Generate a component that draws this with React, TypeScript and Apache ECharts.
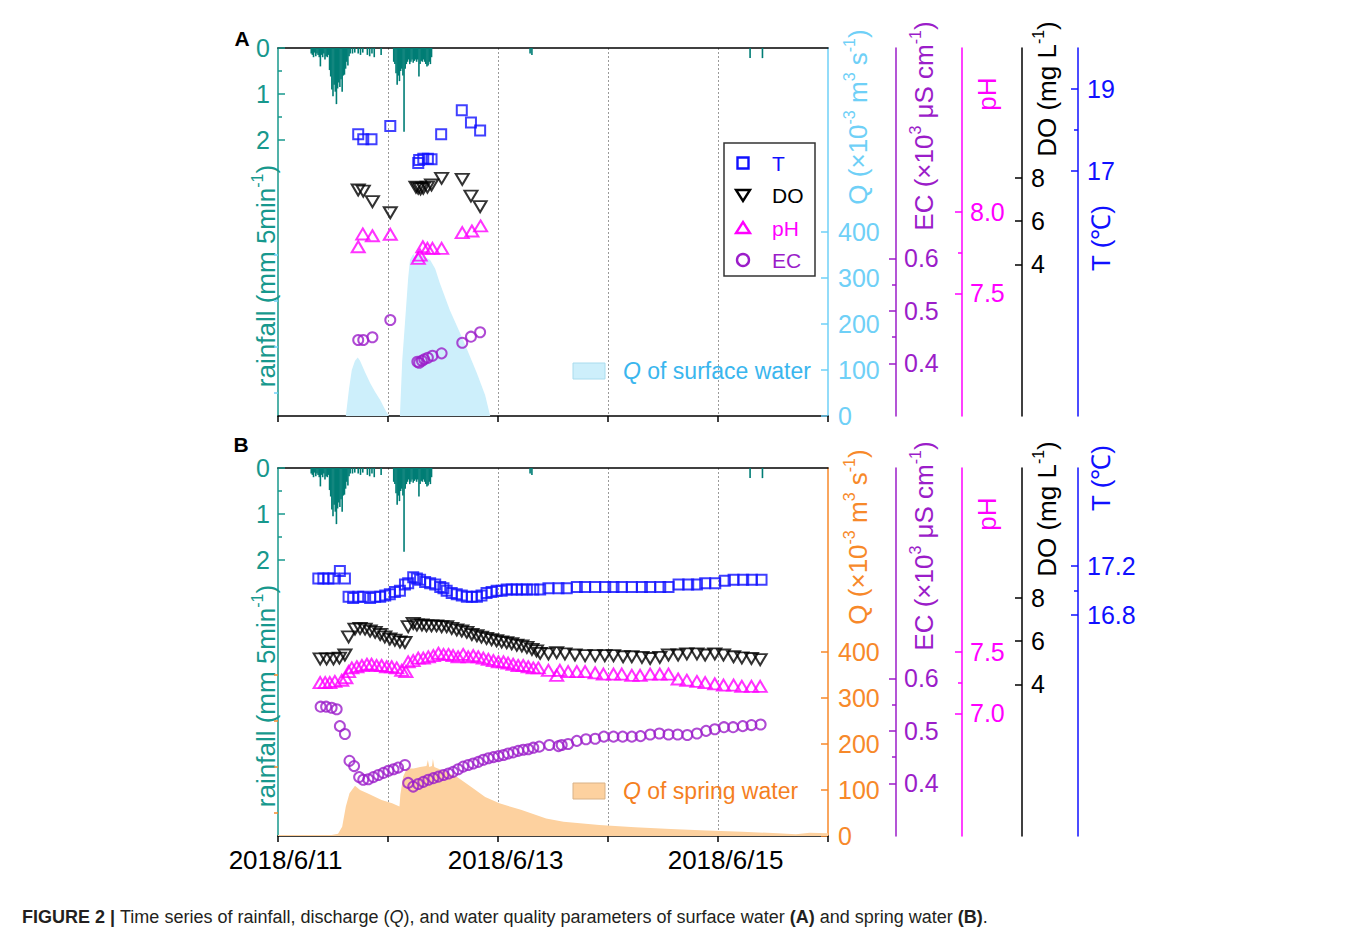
import React, { useEffect, useRef } from 'react';
import * as echarts from 'echarts';

const FONT = '"Liberation Sans", Arial, Helvetica, sans-serif';

// x values: hours after 2018/6/11 00:00
const xTickLabels: Record<number, string> = { 0: '2018/6/11', 48: '2018/6/13', 96: '2018/6/15' };

// rainfall (mm per 5 min), same gauge for both panels
const rainfall: [number, number][] = [
  [7.25, 0.12], [7.5, 0.15], [7.75, 0.2], [8.0, 0.1], [8.25, 0.18], [8.5, 0.12], [8.75, 0.15], [9.0, 0.2],
  [9.25, 0.4], [9.5, 0.15], [9.75, 0.2], [10.0, 0.12], [10.25, 0.25], [10.5, 0.18], [10.75, 0.2], [11.0, 0.15],
  [11.25, 0.48], [11.5, 0.62], [11.75, 0.9], [12.0, 1.05], [12.25, 0.8], [12.5, 0.95], [12.75, 1.22], [13.0, 0.88],
  [13.25, 0.75], [13.5, 0.85], [13.75, 0.68], [14.0, 0.95], [14.25, 0.6], [14.5, 0.58], [14.75, 0.45], [15.0, 0.3],
  [15.25, 0.38], [15.5, 0.18], [15.75, 0.12],
  [16.25, 0.12], [16.75, 0.1], [17.5, 0.12], [18.0, 0.15], [18.5, 0.1], [19.5, 0.15], [20.0, 0.18], [20.5, 0.12],
  [21.0, 0.2], [22.5, 0.15],
  [25.25, 0.3], [25.5, 0.35], [25.75, 0.55], [26.0, 0.8], [26.25, 0.6], [26.5, 0.72], [26.75, 0.5], [27.0, 0.45],
  [27.25, 0.6], [27.5, 1.82], [27.75, 0.45], [28.0, 0.35], [28.25, 0.3], [28.5, 0.25], [28.75, 0.35], [29.0, 0.3],
  [29.25, 0.25], [29.5, 0.32], [29.75, 0.28], [30.0, 0.25], [30.25, 0.3], [30.5, 0.25], [30.75, 0.62], [31.0, 0.35],
  [31.25, 0.28], [31.5, 0.3], [31.75, 0.25], [32.0, 0.3], [32.25, 0.35], [32.5, 0.4], [32.75, 0.38], [33.0, 0.3],
  [33.25, 0.35], [33.5, 0.2],
  [55.0, 0.12], [55.4, 0.15], [103.0, 0.22], [105.7, 0.22],
];

// Panel A: surface water
const qSurface: [number, number][] = [
  [14.8, 0], [15.5, 60], [16.1, 100], [16.8, 120], [17.4, 127], [17.9, 120], [19.0, 95], [20.1, 72], [21.2, 52],
  [22.3, 35], [23.3, 15], [24.0, 3], [24.2, 0], [26.6, 0], [27.1, 120], [27.7, 202], [28.4, 300], [28.8, 339],
  [29.5, 352], [30.0, 344], [30.5, 354], [31.0, 350], [32.1, 345], [33.2, 339], [34.3, 320], [35.3, 289],
  [37.5, 230], [40.4, 165], [43.4, 93], [45.2, 45], [46.3, 0],
];
const tA: [number, number][] = [
  [17.5, 17.89], [18.6, 17.77], [20.4, 17.77], [24.5, 18.09], [30.6, 17.19], [30.8, 17.26], [31.7, 17.29],
  [32.7, 17.29], [33.5, 17.28], [35.6, 17.89], [40.1, 18.48], [42.1, 18.18], [44.1, 17.98],
];
const doA: [number, number][] = [
  [17.5, 7.44], [18.6, 7.39], [20.6, 6.9], [24.5, 6.39], [30.1, 7.57], [30.6, 7.52], [31.1, 7.49], [31.7, 7.52],
  [32.6, 7.57], [33.5, 7.67], [35.7, 7.98], [40.2, 7.93], [42.1, 7.16], [44.1, 6.67],
];
const phA: [number, number][] = [
  [17.5, 7.785], [18.5, 7.863], [20.6, 7.852], [24.5, 7.861], [30.6, 7.714], [31.0, 7.734], [31.6, 7.785],
  [32.6, 7.775], [33.7, 7.775], [35.7, 7.775], [40.2, 7.871], [42.3, 7.881], [44.2, 7.912],
];
const ecA: [number, number][] = [
  [17.5, 0.4446], [18.6, 0.4446], [20.6, 0.4497], [24.5, 0.4826], [30.4, 0.4033], [30.8, 0.4014], [31.4, 0.4052],
  [31.9, 0.4078], [32.7, 0.4109], [33.7, 0.4147], [35.7, 0.4192], [40.2, 0.4394], [42.1, 0.4509], [44.1, 0.4592],
];

// Panel B: spring water
const qSpring: [number, number][] = [
  [0, 2], [11.7, 2], [13.1, 5], [14.0, 20], [14.8, 64], [15.6, 93], [16.8, 109], [17.9, 100], [19.5, 93],
  [22.6, 78], [24.9, 71], [26.5, 64], [26.7, 90], [27.3, 129], [28.1, 147], [29.6, 147], [31.0, 150], [32.4, 152],
  [32.7, 165], [33.0, 150], [33.6, 152], [33.8, 168], [34.1, 150], [35.8, 143], [39.0, 129], [42.1, 107], [45.2, 85],
  [48.3, 71], [53.0, 57], [58.5, 38], [62.3, 31], [70.1, 24], [77.9, 19], [85.7, 15], [93.5, 12], [101.3, 9],
  [109.1, 6], [113.0, 4], [116.0, 7], [120.0, 6],
];
const tB: [number, number][] = [
  [8.8, 17.1], [9.9, 17.1], [11.0, 17.1], [12.1, 17.1], [13.5, 17.16], [14.6, 17.1], [15.4, 16.95], [16.4, 16.94],
  [17.5, 16.95], [18.6, 16.95], [20.1, 16.94], [21.2, 16.95], [22.3, 16.95], [23.4, 16.96], [24.4, 16.97],
  [25.5, 16.99], [26.6, 17.0], [27.7, 17.05], [28.4, 17.06], [29.5, 17.11], [30.3, 17.1], [31.0, 17.09],
  [32.1, 17.07], [33.2, 17.06], [34.3, 17.05], [35.4, 17.03], [36.1, 17.02], [36.8, 17.0], [37.9, 16.98],
  [39.0, 16.97], [40.1, 16.96], [41.2, 16.95], [42.3, 16.95], [43.4, 16.95], [44.4, 16.96], [45.5, 16.98],
  [46.6, 16.99], [47.7, 17.0], [48.8, 17.0], [49.9, 17.01], [51.0, 17.01], [52.1, 17.01], [53.2, 17.01],
  [54.3, 17.01], [55.7, 17.01], [57.2, 17.01], [59.0, 17.02], [61.2, 17.02], [63.0, 17.02], [65.2, 17.03],
  [67.0, 17.03], [69.2, 17.03], [71.4, 17.03], [73.2, 17.03], [75.0, 17.03], [77.2, 17.03], [79.4, 17.03],
  [81.2, 17.03], [83.4, 17.03], [85.2, 17.03], [87.4, 17.05], [89.5, 17.05], [91.4, 17.05], [93.2, 17.06],
  [95.4, 17.06], [97.5, 17.08], [99.4, 17.09], [101.5, 17.09], [103.4, 17.09], [105.5, 17.09],
];
const doB: [number, number][] = [
  [9.2, 5.18], [10.6, 5.18], [12.1, 5.18], [13.4, 5.22], [14.6, 5.36], [15.4, 6.2], [16.8, 6.56], [17.9, 6.59],
  [19.0, 6.56], [20.1, 6.47], [21.2, 6.41], [22.3, 6.31], [23.3, 6.2], [24.4, 6.1], [25.5, 6.05], [26.6, 5.97],
  [27.7, 5.94], [28.4, 6.67], [29.5, 6.82], [30.3, 6.75], [31.4, 6.75], [32.4, 6.71], [33.5, 6.71], [34.6, 6.71],
  [35.7, 6.67], [36.8, 6.67], [37.9, 6.59], [39.0, 6.52], [40.1, 6.47], [41.2, 6.41], [42.3, 6.31], [43.4, 6.25],
  [44.4, 6.19], [45.5, 6.13], [46.6, 6.07], [47.7, 6.02], [48.8, 5.97], [49.9, 5.93], [51.0, 5.88], [52.1, 5.82],
  [53.2, 5.78], [54.3, 5.71], [55.4, 5.62], [56.4, 5.55], [57.2, 5.44], [59.0, 5.41], [60.8, 5.47], [62.6, 5.41],
  [64.8, 5.36], [67.0, 5.33], [69.2, 5.33], [71.3, 5.33], [73.2, 5.33], [75.3, 5.28], [77.2, 5.28], [79.4, 5.25],
  [81.2, 5.2], [83.3, 5.25], [85.2, 5.36], [87.3, 5.36], [89.2, 5.41], [91.4, 5.41], [93.2, 5.36], [95.3, 5.41],
  [97.2, 5.36], [99.4, 5.28], [101.2, 5.23], [103.3, 5.2], [105.2, 5.15],
];
const phB: [number, number][] = [
  [9.2, 7.25], [10.3, 7.25], [11.3, 7.25], [12.4, 7.26], [13.9, 7.27], [14.8, 7.29], [15.4, 7.34], [16.1, 7.37],
  [17.2, 7.38], [18.3, 7.39], [19.4, 7.4], [20.4, 7.4], [21.5, 7.39], [22.6, 7.39], [23.7, 7.38], [24.8, 7.38],
  [25.9, 7.37], [27.0, 7.35], [27.9, 7.34], [28.4, 7.42], [29.5, 7.43], [30.6, 7.45], [31.7, 7.45], [32.8, 7.46],
  [33.9, 7.47], [35.0, 7.49], [36.1, 7.48], [37.2, 7.48], [38.2, 7.47], [39.3, 7.46], [40.4, 7.48], [41.5, 7.46],
  [42.6, 7.47], [43.7, 7.46], [44.8, 7.45], [45.9, 7.44], [47.0, 7.43], [48.1, 7.42], [49.2, 7.42], [50.2, 7.41],
  [51.3, 7.4], [52.4, 7.39], [53.5, 7.39], [54.6, 7.38], [55.7, 7.37], [56.8, 7.37], [59.0, 7.35], [60.8, 7.31],
  [61.5, 7.35], [63.3, 7.34], [65.2, 7.34], [67.0, 7.34], [69.2, 7.33], [71.0, 7.32], [73.2, 7.32], [75.0, 7.32],
  [77.2, 7.31], [79.0, 7.31], [81.2, 7.32], [83.3, 7.32], [85.2, 7.32], [87.3, 7.28], [89.2, 7.27], [91.4, 7.26],
  [93.2, 7.25], [95.3, 7.24], [97.2, 7.23], [99.4, 7.23], [101.2, 7.22], [103.3, 7.22], [105.2, 7.22],
];
const ecB: [number, number][] = [
  [9.3, 0.546], [10.5, 0.546], [11.7, 0.544], [12.8, 0.541], [13.5, 0.509], [14.6, 0.494], [15.6, 0.443],
  [16.6, 0.433], [17.7, 0.412], [18.6, 0.407], [19.7, 0.408], [20.8, 0.412], [21.9, 0.416], [23.0, 0.42],
  [24.1, 0.424], [25.2, 0.427], [26.2, 0.43], [27.7, 0.435], [28.4, 0.401], [29.5, 0.394], [30.6, 0.399],
  [31.7, 0.403], [32.8, 0.407], [33.9, 0.41], [35.0, 0.413], [36.1, 0.416], [37.2, 0.419], [38.2, 0.422],
  [39.3, 0.427], [40.4, 0.432], [41.5, 0.435], [42.6, 0.438], [43.7, 0.441], [44.8, 0.445], [45.9, 0.448],
  [47.0, 0.45], [48.1, 0.452], [49.2, 0.454], [50.2, 0.457], [51.3, 0.459], [52.4, 0.462], [53.5, 0.464],
  [54.6, 0.465], [55.7, 0.468], [57.0, 0.47], [59.2, 0.473], [61.2, 0.471], [61.9, 0.473], [63.3, 0.475],
  [65.2, 0.481], [67.2, 0.484], [69.2, 0.485], [71.1, 0.489], [73.2, 0.489], [75.2, 0.489], [77.2, 0.489],
  [79.1, 0.49], [81.2, 0.493], [83.2, 0.495], [85.2, 0.493], [87.2, 0.493], [89.3, 0.492], [91.4, 0.495],
  [93.4, 0.5], [95.3, 0.503], [97.3, 0.507], [99.3, 0.507], [101.4, 0.509], [103.3, 0.511], [105.3, 0.512],
];

// axis tick values
const rainTicks = [0, 1, 2];
const rainMinor = [0.5, 1.5];
const qTicks = [0, 100, 200, 300, 400];
const qMinor = [50, 150, 250, 350];
const ecTicks = [0.4, 0.5, 0.6];
const ecMinor = [0.45, 0.55];
const phTicksA = [7.5, 8.0];
const phMinorA = [7.75];
const phTicksB = [7.0, 7.5];
const phMinorB = [7.25];
const doTicks = [4, 6, 8];
const tTicksA = [17, 19];
const tMinorA = [18];
const tTicksB = [16.8, 17.2];
const tMinorB = [17.0];

const TEAL = '#17988d';
const TEAL_BAR = '#007d75';
const Q_A = '#6fd0f7';
const Q_A_FILL = '#cdeffb';
const Q_A_TEXT = '#3ab6ee';
const Q_B = '#f7892a';
const Q_B_FILL = '#fdd19f';
const Q_B_TEXT = '#f5801f';
const EC_C = '#9b1dc9';
const PH_C = '#ff00ff';
const DO_C = '#000000';
const T_C = '#1010ff';

const GRID_LEFT = 278;
const GRID_W = 550;
const GRID_H = 368;
const PANEL_TOPS = [48, 468];

type AxisSpec = {
  position: 'left' | 'right';
  offset: number;
  min: number;
  max: number;
  inverse?: boolean;
  color: string;
  major: number[];
  minor: number[];
  fmt: (v: number) => string;
  margin: number;
};

function makeAxes(s: AxisSpec, gridIndex: number): any[] {
  const base = {
    type: 'value',
    gridIndex,
    position: s.position,
    offset: s.offset,
    min: s.min,
    max: s.max,
    inverse: !!s.inverse,
    splitLine: { show: false },
  };
  const main = {
    ...base,
    axisLine: { show: true, onZero: false, lineStyle: { color: s.color, width: 1.5 } },
    axisTick: { show: true, inside: true, length: 7, customValues: s.major, lineStyle: { color: s.color, width: 1.5 } },
    axisLabel: {
      show: true,
      customValues: s.major,
      formatter: (v: number) => s.fmt(v),
      color: s.color,
      fontSize: 25,
      fontFamily: FONT,
      margin: s.margin,
    },
  };
  const out: any[] = [main];
  if (s.minor.length) {
    out.push({
      ...base,
      axisLine: { show: false },
      axisTick: { show: true, inside: true, length: 4, customValues: s.minor, lineStyle: { color: s.color, width: 1.5 } },
      axisLabel: { show: false },
    });
  }
  return out;
}

const int = (v: number) => String(Math.round(v));
const one = (v: number) => v.toFixed(1);

function vName(x: number, y: number, parts: [string, boolean][], color: string) {
  const text = parts.map(([t, sup]) => `{${sup ? 's' : 'n'}|${t}}`).join('');
  return {
    type: 'text',
    x,
    y,
    rotation: Math.PI / 2,
    silent: true,
    style: {
      text,
      fill: color,
      align: 'center',
      verticalAlign: 'middle',
      rich: {
        n: { fontSize: 26, fontFamily: FONT, fill: color, verticalAlign: 'bottom', lineHeight: 30 },
        s: { fontSize: 16, fontFamily: FONT, fill: color, verticalAlign: 'top', lineHeight: 16 },
      },
    },
  };
}

function buildOption() {
  const yAxes: any[] = [];
  const xAxes: any[] = [];
  const series: any[] = [];

  const panels = [
    {
      q: qSurface, qColor: Q_A, qFill: Q_A_FILL, t: tA, d: doA, p: phA, e: ecA,
      ph: { min: 6.75, max: 9, major: phTicksA, minor: phMinorA },
      tt: { min: 11, max: 20, major: tTicksA, minor: tMinorA, fmt: int },
    },
    {
      q: qSpring, qColor: Q_B, qFill: Q_B_FILL, t: tB, d: doB, p: phB, e: ecB,
      ph: { min: 6, max: 9, major: phTicksB, minor: phMinorB },
      tt: { min: 15, max: 18, major: tTicksB, minor: tMinorB, fmt: one },
    },
  ];

  panels.forEach((pn, gi) => {
    const xi = xAxes.length;
    xAxes.push({
      type: 'value', gridIndex: gi, min: 0, max: 120, interval: 24, position: 'bottom',
      axisLine: { show: true, onZero: false, lineStyle: { color: '#000', width: 1.5 } },
      axisTick: { show: true, inside: false, length: 6, lineStyle: { color: '#000', width: 1.5 } },
      axisLabel: {
        show: gi === 1,
        formatter: (v: number) => xTickLabels[v] ?? '',
        color: '#000', fontSize: 26, fontFamily: FONT, margin: 11,
        padding: [0, 0, 0, 15],
      },
      splitLine: { show: true, showMinLine: false, showMaxLine: false, lineStyle: { color: '#9a9a9a', width: 1, type: [2, 2] } },
    });
    xAxes.push({
      type: 'value', gridIndex: gi, min: 0, max: 120, position: 'top',
      axisLine: { show: true, onZero: false, lineStyle: { color: '#000', width: 1.5 } },
      axisTick: { show: false }, axisLabel: { show: false }, splitLine: { show: false },
    });

    const idx: Record<string, number> = {};
    const add = (key: string, spec: AxisSpec) => {
      idx[key] = yAxes.length;
      yAxes.push(...makeAxes(spec, gi));
    };
    add('rain', { position: 'left', offset: 0, min: 0, max: 8, inverse: true, color: TEAL, major: rainTicks, minor: rainMinor, fmt: int, margin: 8 });
    add('q', { position: 'right', offset: 0, min: 0, max: 800, color: pn.qColor, major: qTicks, minor: qMinor, fmt: int, margin: 10 });
    add('ec', { position: 'right', offset: 68, min: 0.3, max: 1.0, color: EC_C, major: ecTicks, minor: ecMinor, fmt: one, margin: 8 });
    add('ph', { position: 'right', offset: 134, min: pn.ph.min, max: pn.ph.max, color: PH_C, major: pn.ph.major, minor: pn.ph.minor, fmt: one, margin: 8 });
    add('do', { position: 'right', offset: 194, min: -3, max: 14, color: DO_C, major: doTicks, minor: [], fmt: int, margin: 9 });
    add('t', { position: 'right', offset: 250, min: pn.tt.min, max: pn.tt.max, color: T_C, major: pn.tt.major, minor: pn.tt.minor, fmt: pn.tt.fmt, margin: 9 });

    series.push({
      name: gi === 0 ? 'Q of surface water' : 'Q of spring water',
      type: 'line', xAxisIndex: xi, yAxisIndex: idx.q, data: pn.q, symbol: 'none', z: 1,
      lineStyle: { width: 0, opacity: 0 }, areaStyle: { color: pn.qFill, opacity: 1 },
    });
    series.push({
      name: 'rainfall', type: 'bar', xAxisIndex: xi, yAxisIndex: idx.rain, data: rainfall,
      barWidth: 1.6, itemStyle: { color: TEAL_BAR }, z: 2,
    });
    const sc = (name: string, data: [number, number][], yi: number, symbol: string, size: any, color: string, rot = 0) => ({
      name, type: 'scatter', xAxisIndex: xi, yAxisIndex: yi, data, symbol, symbolSize: size, symbolRotate: rot, z: 3,
      itemStyle: { color: 'rgba(0,0,0,0)', borderColor: color, borderWidth: 2 },
    });
    series.push(sc('EC', pn.e, idx.ec, 'circle', 10, EC_C));
    series.push(sc('pH', pn.p, idx.ph, 'triangle', [13, 11], PH_C));
    series.push(sc('DO', pn.d, idx.do, 'triangle', [13, 11], DO_C, 180));
    series.push(sc('T', pn.t, idx.t, 'rect', 10, T_C));
  });

  const graphic: any[] = [];
  // panel letters
  graphic.push({ type: 'text', x: 242, y: 38, silent: true, style: { text: 'A', fill: '#000', font: `bold 21px ${FONT}`, align: 'center', verticalAlign: 'middle' } });
  graphic.push({ type: 'text', x: 241, y: 444, silent: true, style: { text: 'B', fill: '#000', font: `bold 21px ${FONT}`, align: 'center', verticalAlign: 'middle' } });

  PANEL_TOPS.forEach((top, gi) => {
    const dy = top - 48;
    graphic.push(vName(264, 276 + dy, [['rainfall (mm 5min', false], ['-1', true], [')', false]], TEAL));
    graphic.push(vName(856, 117 + dy, [['Q (×10', false], ['-3', true], [' m', false], ['3', true], [' s', false], ['-1', true], [')', false]], gi === 0 ? Q_A : Q_B));
    graphic.push(vName(922, 126 + dy, [['EC (×10', false], ['3', true], [' μS cm', false], ['-1', true], [')', false]], EC_C));
    graphic.push(vName(985, 94 + dy, [['pH', false]], PH_C));
    graphic.push(vName(1045, 89 + dy, [['DO (mg L', false], ['-1', true], [')', false]], DO_C));
    graphic.push(vName(1099, gi === 0 ? 238 : 478, [['T (℃)', false]], T_C));
  });

  // legend box (panel A)
  const lgX = 743;
  const rows = [163, 195, 228, 260];
  graphic.push({ type: 'rect', shape: { x: 724, y: 143, width: 91, height: 133 }, style: { fill: '#fff', stroke: '#333', lineWidth: 1.5 }, z: 10 });
  graphic.push({ type: 'rect', shape: { x: lgX - 5.5, y: rows[0] - 5.5, width: 11, height: 11 }, style: { fill: 'none', stroke: T_C, lineWidth: 2.4 }, z: 11 });
  graphic.push({ type: 'polygon', shape: { points: [[lgX - 7, rows[1] - 5], [lgX + 7, rows[1] - 5], [lgX, rows[1] + 6]] }, style: { fill: 'none', stroke: DO_C, lineWidth: 2.4 }, z: 11 });
  graphic.push({ type: 'polygon', shape: { points: [[lgX - 7, rows[2] + 5], [lgX + 7, rows[2] + 5], [lgX, rows[2] - 6]] }, style: { fill: 'none', stroke: PH_C, lineWidth: 2.4 }, z: 11 });
  graphic.push({ type: 'circle', shape: { cx: lgX, cy: rows[3], r: 6 }, style: { fill: 'none', stroke: EC_C, lineWidth: 2.4 }, z: 11 });
  [['T', T_C], ['DO', DO_C], ['pH', PH_C], ['EC', EC_C]].forEach(([t, c], i) => {
    graphic.push({ type: 'text', x: 772, y: rows[i], z: 11, silent: true, style: { text: t, fill: c, font: `21px ${FONT}`, align: 'left', verticalAlign: 'middle' } });
  });

  // Q legends
  const qLegend = (y: number, fill: string, stroke: string, color: string, label: string) => {
    graphic.push({ type: 'rect', shape: { x: 573, y: y - 8, width: 32, height: 16 }, style: { fill, stroke, lineWidth: 1 }, z: 10 });
    graphic.push({
      type: 'text', x: 623, y, z: 10, silent: true,
      style: {
        text: `{i|Q}{n| ${label}}`, fill: color, align: 'left', verticalAlign: 'middle',
        rich: {
          i: { fontSize: 23, fontFamily: FONT, fontStyle: 'italic', fill: color },
          n: { fontSize: 23, fontFamily: FONT, fill: color },
        },
      },
    });
  };
  qLegend(371, Q_A_FILL, '#a9dcee', Q_A_TEXT, 'of surface water');
  qLegend(791, Q_B_FILL, '#d9b287', Q_B_TEXT, 'of spring water');

  // caption
  const capFont = '"Liberation Sans Narrow", "Liberation Sans", Arial, sans-serif';
  graphic.push({
    type: 'text', x: 22, y: 917, silent: true,
    style: {
      text: '{b|FIGURE 2 | }{n|Time series of rainfall, discharge (}{i|Q}{n|), and water quality parameters of surface water }{b|(A)}{n| and spring water }{b|(B)}{n|.}',
      align: 'left', verticalAlign: 'middle', fill: '#231f20',
      rich: {
        n: { fontSize: 18, fontFamily: capFont, fill: '#231f20' },
        i: { fontSize: 18, fontFamily: capFont, fontStyle: 'italic', fill: '#231f20' },
        b: { fontSize: 18, fontFamily: capFont, fontWeight: 'bold', fill: '#231f20' },
      },
    },
  });

  return {
    animation: false,
    backgroundColor: '#ffffff',
    grid: PANEL_TOPS.map((t) => ({ left: GRID_LEFT, top: t, width: GRID_W, height: GRID_H })),
    xAxis: xAxes,
    yAxis: yAxes,
    series,
    graphic,
  };
}

export default function App() {
  const ref = useRef<HTMLDivElement>(null);
  useEffect(() => {
    const chart = echarts.init(ref.current!, null, { renderer: 'svg' });
    chart.setOption(buildOption() as any);
    return () => chart.dispose();
  }, []);
  return (
    <div
      ref={ref}
      style={{ position: 'fixed', left: 0, top: 0, width: 1357, height: 939, background: '#fff' }}
    />
  );
}
